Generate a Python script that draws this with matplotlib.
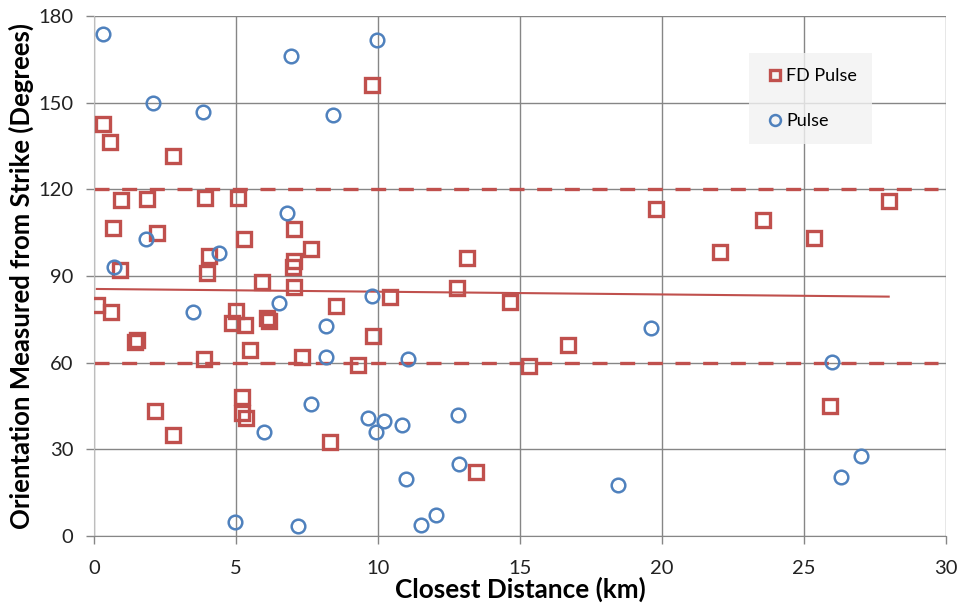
import numpy as np
import matplotlib
matplotlib.use("Agg")
import matplotlib.pyplot as plt

plt.rcParams['font.family'] = ['Lato', 'DejaVu Sans']

# FD Pulse (red squares)
fd_dist = [0.31, 0.55, 2.77, 9.79, 0.94, 1.85, 3.89, 5.05, 0.66, 2.20,
           5.26, 7.02, 7.65, 4.03, 3.96, 0.90, 7.02, 7.00, 7.02, 5.89,
           0.09, 0.58, 8.50, 4.98, 4.84, 5.30, 6.14, 6.10, 5.47, 1.43,
           1.50, 3.86, 7.30, 9.30, 9.83, 5.20, 5.20, 5.35, 2.13, 2.77,
           8.32, 10.42, 12.77, 13.13, 14.64, 15.31, 16.68, 13.45, 19.80, 22.05,
           23.55, 25.35, 27.98, 25.90]
fd_orient = [142.6, 136.3, 131.5, 156.1, 116.3, 116.6, 116.9, 117.0, 106.6, 104.9,
             102.8, 106.2, 99.3, 96.9, 91.0, 92.0, 95.2, 93.1, 86.2, 87.9,
             80.0, 77.5, 79.6, 77.9, 73.7, 73.0, 74.3, 75.5, 64.4, 67.1,
             67.8, 61.2, 62.0, 59.2, 69.2, 48.1, 42.5, 40.8, 43.3, 34.9,
             32.5, 82.7, 85.8, 96.2, 81.0, 58.8, 66.1, 22.1, 113.1, 98.3,
             109.3, 103.1, 115.9, 45.0]

# Pulse (blue circles)
p_dist = [0.30, 2.07, 3.83, 6.94, 9.95, 8.42, 6.80, 1.82, 4.38, 0.70,
          3.47, 6.52, 9.79, 8.17, 8.17, 7.65, 5.97, 9.63, 9.93, 10.20,
          10.84, 11.06, 12.81, 12.84, 10.98, 12.04, 11.51, 4.94, 7.19, 19.62,
          18.46, 25.98, 27.00, 26.30]
p_orient = [173.7, 149.8, 146.7, 166.0, 171.7, 145.7, 111.8, 102.8, 97.9, 93.1,
            77.5, 80.6, 83.0, 72.7, 62.0, 45.7, 36.0, 40.8, 36.0, 39.8,
            38.4, 61.2, 41.9, 24.9, 19.7, 7.3, 3.8, 4.8, 3.5, 72.0,
            17.6, 60.2, 27.7, 20.4]

bounds = [60, 120]
red = '#C0504D'
blue = '#4F81BD'
grid_col = '#868686'

fig = plt.figure(figsize=(9.59, 6.07), dpi=100)
ax = fig.add_axes([0.0983, 0.117, 0.8882, 0.8566])

# bounds as dashed lines
for b in bounds:
    ax.plot([0, 29.7], [b, b], color=red, lw=2.4, dashes=(4.5, 3.8), zorder=2)

# linear trend of FD Pulse
coef = np.polyfit(fd_dist, fd_orient, 1)
xs = np.array([min(fd_dist), max(fd_dist)])
ax.plot(xs, np.polyval(coef, xs), color=red, lw=1.5, zorder=2)

ax.plot(fd_dist, fd_orient, ls='none', marker='s', ms=9.8, mew=2.4,
        mfc='none', mec=red, label='FD Pulse', zorder=3)
ax.plot(p_dist, p_orient, ls='none', marker='o', ms=9.8, mew=1.8,
        mfc='none', mec=blue, label='Pulse', zorder=3)

ax.set_xlim(0, 30)
ax.set_ylim(0, 180)
ax.set_xticks(np.arange(0, 31, 5))
ax.set_yticks(np.arange(0, 181, 30))
ax.grid(True, color=grid_col, lw=1)
ax.set_axisbelow(True)
for s in ['top', 'right']:
    ax.spines[s].set_visible(False)
ax.spines['left'].set_color('#BDBDBD')
ax.spines['bottom'].set_color(grid_col)
ax.tick_params(axis='both', length=6, width=1, color=grid_col,
               labelsize=14.5, labelcolor='#222222')
ax.tick_params(axis='x', pad=11)
ax.tick_params(axis='y', pad=9)

ax.set_xlabel('Closest Distance (km)', fontsize=18.8, fontweight='bold', labelpad=0)
ax.set_ylabel('Orientation Measured from Strike (Degrees)', fontsize=18.5,
              fontweight='bold', labelpad=3)

leg = ax.legend(loc='upper left', bbox_to_anchor=(0.7685, 0.9288),
                borderaxespad=0, frameon=True, fancybox=False,
                facecolor='#F2F2F2', edgecolor='none', fontsize=13,
                handletextpad=0.05, handlelength=1.2, labelspacing=1.64,
                borderpad=0.82, markerscale=0.8)
leg.get_frame().set_linewidth(0)

fig.savefig('out.png', dpi=100)
